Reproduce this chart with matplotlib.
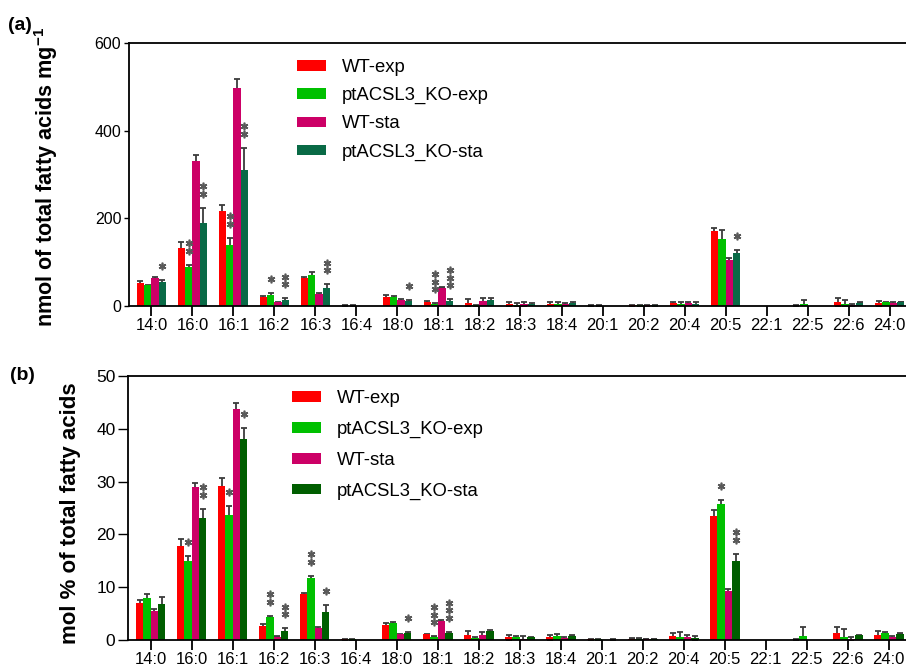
import matplotlib
matplotlib.use('Agg')
import matplotlib.pyplot as plt
import numpy as np
from matplotlib.transforms import ScaledTranslation

plt.rcParams['font.family'] = ['Liberation Sans', 'DejaVu Sans']
plt.rcParams['mathtext.fontset'] = 'custom'
plt.rcParams['mathtext.bf'] = 'Liberation Sans:bold'
plt.rcParams['mathtext.rm'] = 'Liberation Sans'

# ---------------- data ----------------
cats = ['14:0', '16:0', '16:1', '16:2', '16:3', '16:4', '18:0', '18:1', '18:2', '18:3',
        '18:4', '20:1', '20:2', '20:4', '20:5', '22:1', '22:5', '22:6', '24:0']
labels_a = ['WT-exp', 'ptACSL3_KO-exp', 'WT-sta', 'ptACSL3_KO-sta']
labels_b = ['WT-exp', 'ptACSL3_KO-exp', 'WT-sta', 'ptACSL3_KO-sta']

# panel (a): nmol of total fatty acids per mg
a_wt_exp = [52, 132, 216, 21, 64, 1, 20, 9, 7, 5, 5, 1, 2, 6, 172, 0, 1, 8, 6]
a_wt_exp_err = [6, 13, 15, 2, 2, 0.5, 4, 2, 8, 4, 3, 0.5, 1, 2, 6, 0, 0.5, 11, 6]
a_ko_exp = [47, 89, 139, 25, 70, 1, 20, 4, 2, 3, 5, 1, 2, 5, 152, 0, 4, 5, 8]
a_ko_exp_err = [1, 5, 17, 4, 8, 0.5, 2, 2, 1, 3, 3, 0.5, 1, 3, 22, 0, 10, 8, 2]
a_wt_sta = [64, 330, 498, 8, 28, 0, 14, 42, 11, 5, 5, 0, 2, 6, 106, 0, 0, 3, 6]
a_wt_sta_err = [3, 15, 21, 1, 2, 0, 2, 2, 8, 4, 2, 0, 1, 3, 4, 0, 0, 2, 2]
a_ko_sta = [55, 189, 311, 14, 42, 0, 11, 12, 14, 4, 6, 0, 2, 5, 120, 0, 0, 7, 9]
a_ko_sta_err = [5, 35, 50, 4, 8, 0, 2, 3, 4, 2, 2, 0, 1, 3, 8, 0, 0, 1, 1]

# panel (b): mol % of total fatty acids
b_wt_exp = [7.0, 17.8, 29.2, 2.7, 8.7, 0.1, 2.8, 1.1, 0.9, 0.5, 0.5, 0.1, 0.2, 0.8, 23.5, 0, 0.05, 1.4, 0.9]
b_wt_exp_err = [0.6, 1.3, 1.5, 0.3, 0.2, 0.05, 0.5, 0.1, 0.8, 0.5, 0.5, 0.05, 0.1, 0.5, 1.1, 0, 0.05, 1.1, 0.8]
b_ko_exp = [8.0, 15.0, 23.7, 4.4, 11.8, 0.1, 3.2, 0.6, 0.4, 0.5, 0.8, 0.1, 0.2, 0.6, 25.8, 0, 0.8, 0.6, 1.4]
b_ko_exp_err = [0.8, 0.9, 1.6, 0.2, 0.4, 0.05, 0.3, 0.1, 0.2, 0.3, 0.4, 0.05, 0.1, 0.9, 0.8, 0, 1.6, 1.4, 0.2]
b_wt_sta = [5.5, 29.0, 43.8, 0.6, 2.3, 0, 1.1, 3.6, 0.9, 0.2, 0.4, 0, 0.15, 0.6, 9.3, 0, 0, 0.2, 0.6]
b_wt_sta_err = [0.4, 0.7, 1.1, 0.1, 0.2, 0, 0.1, 0.1, 0.7, 0.5, 0.2, 0, 0.05, 0.3, 0.4, 0, 0, 0.4, 0.2]
b_ko_sta = [6.8, 23.1, 38.1, 1.7, 5.3, 0, 1.3, 1.3, 1.7, 0.5, 0.8, 0.05, 0.15, 0.3, 15.0, 0, 0, 0.9, 1.2]
b_ko_sta_err = [1.3, 1.8, 2.0, 0.5, 1.3, 0, 0.3, 0.3, 0.2, 0.1, 0.1, 0.05, 0.05, 0.5, 1.3, 0, 0, 0.1, 0.1]

# significance marks: (category index, series index, number of asterisks)
a_stars = [(0, 3, 1), (1, 1, 2), (1, 3, 2), (2, 1, 2), (2, 3, 2), (3, 1, 1), (3, 3, 2),
           (4, 3, 2), (6, 3, 1), (7, 1, 3), (7, 3, 3), (14, 3, 1)]
b_stars = [(1, 1, 1), (1, 3, 2), (2, 1, 1), (2, 3, 1), (3, 1, 2), (3, 3, 2), (4, 1, 2),
           (4, 3, 1), (6, 3, 1), (7, 1, 3), (7, 3, 3), (14, 1, 1), (14, 3, 2)]

colors_a = ['#ff0000', '#00c000', '#cc0066', '#096a46']
colors_b = ['#ff0000', '#00c000', '#cc0066', '#005e00']

# ---------------- figure ----------------
W, H = 906, 669
fig = plt.figure(figsize=(W / 100, H / 100), dpi=100)


def rect(l, t, r, b):
    return [l / W, 1 - b / H, (r - l) / W, (b - t) / H]


axA = fig.add_axes(rect(129, 43, 906, 306))
axB = fig.add_axes(rect(128, 376, 906, 640))

x = np.arange(len(cats))
width = 0.18
offs = (np.arange(4) - 1.5) * width


def draw(ax, series, errs, colors, labels, stars, ylim, yticks, xlim, ytick_len, ytick_size,
         legend_anchor, lspacing):
    for k in range(4):
        xs = x + offs[k]
        v = np.array(series[k], dtype=float)
        e = np.array(errs[k], dtype=float)
        ax.bar(xs, v, width, color=colors[k], label=labels[k], zorder=2, linewidth=0)
        m = v > 0
        ax.errorbar(xs[m], v[m], yerr=e[m], fmt='none', ecolor='#3c3c3c', elinewidth=1.3,
                    capsize=2, capthick=1.3, zorder=1)
    for ci, bi, n in stars:
        top = series[bi][ci] + errs[bi][ci]
        for j in range(n):
            tr = ax.transData + ScaledTranslation(0, (14 + 7.5 * j) / 100, fig.dpi_scale_trans)
            ax.plot([x[ci] + offs[bi]], [top], marker=(6, 2, 0), ms=5.5, mew=1.2,
                    color='#5a5a5a', transform=tr, clip_on=False, zorder=4)
    ax.set_xlim(*xlim)
    ax.set_ylim(*ylim)
    ax.set_yticks(yticks)
    ax.set_xticks(x)
    ax.set_xticklabels(cats)
    ax.spines['right'].set_visible(False)
    for s in ['top', 'left', 'bottom']:
        ax.spines[s].set_linewidth(1.3)
    ax.tick_params(axis='x', length=7, width=1.3, labelsize=12, pad=2)
    ax.tick_params(axis='y', length=ytick_len, width=1.0, labelsize=ytick_size, pad=2)
    ax.legend(loc='upper left', bbox_to_anchor=legend_anchor, frameon=False, fontsize=13.3,
              handlelength=1.57, handleheight=0.5, handletextpad=0.86,
              labelspacing=lspacing, borderpad=0, borderaxespad=0)


draw(axA, [a_wt_exp, a_ko_exp, a_wt_sta, a_ko_sta],
     [a_wt_exp_err, a_ko_exp_err, a_wt_sta_err, a_ko_sta_err],
     colors_a, labels_a, a_stars, (0, 600), [0, 200, 400, 600], (-0.546, 18.40), 3.5, 11.5,
     (0.216, 0.939), 0.6)
draw(axB, [b_wt_exp, b_ko_exp, b_wt_sta, b_ko_sta],
     [b_wt_exp_err, b_ko_exp_err, b_wt_sta_err, b_ko_sta_err],
     colors_b, labels_b, b_stars, (0, 50), [0, 10, 20, 30, 40, 50], (-0.554, 18.42), 7, 12.5,
     (0.211, 0.947), 0.75)

fig.text(46 / W, 1 - 177 / H, r'nmol of total fatty acids mg$^{\mathbf{-1}}$', rotation=90,
         fontweight='bold', fontsize=15.6, ha='center', va='center')
fig.text(71 / W, 1 - 513 / H, 'mol % of total fatty acids', rotation=90,
         fontweight='bold', fontsize=16, ha='center', va='center')
fig.text(8 / W, 1 - 25 / H, '(a)', fontweight='bold', fontsize=14, ha='left', va='center')
fig.text(10 / W, 1 - 376 / H, '(b)', fontweight='bold', fontsize=14, ha='left', va='center')

fig.savefig('out.png', dpi=100)
